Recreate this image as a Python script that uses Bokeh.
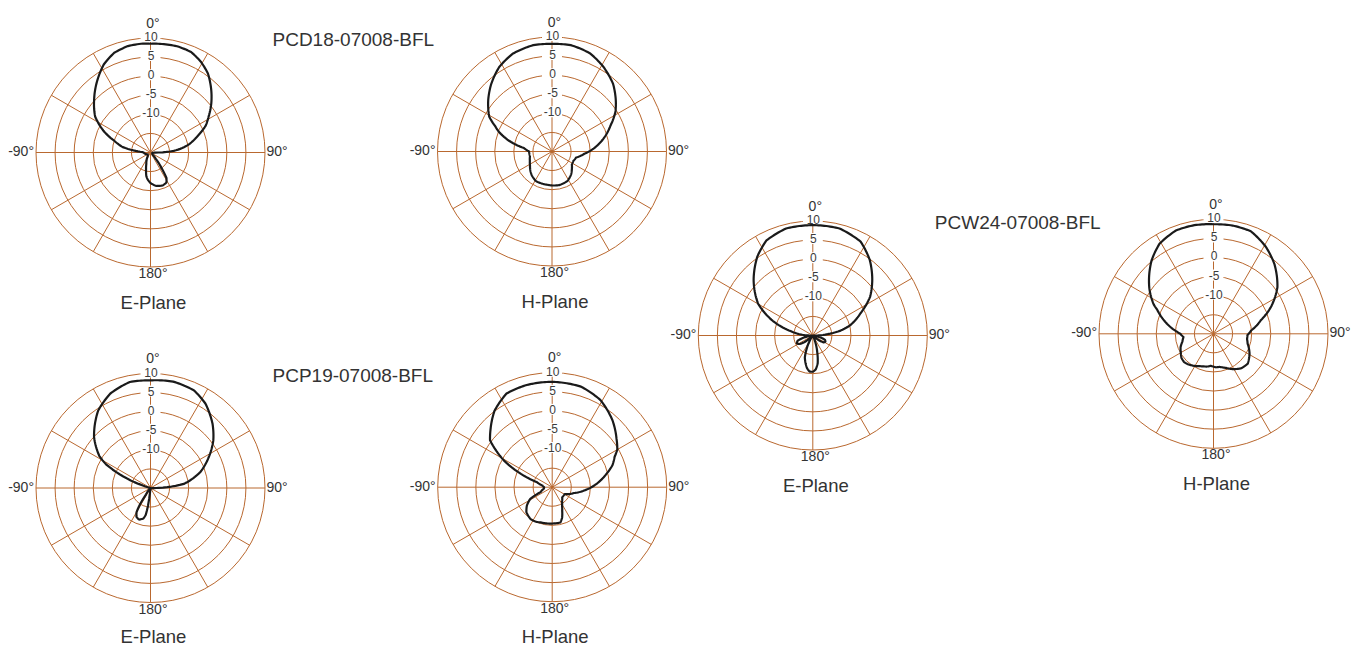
import numpy as np
from bokeh.plotting import figure
from bokeh.models import Range1d
from bokeh.core.properties import value
from bokeh.embed import file_html
from bokeh.resources import INLINE

# ---------------- data ----------------
ring_db = [-15, -10, -5, 0, 5, 10]
ring_labels = ["", "-10", "-5", "0", "5", "10"]
spoke_deg = [0, 30, 60, 90, 120, 150, 180, 210, 240, 270, 300, 330]
dir_labels = ["0°", "90°", "180°", "-90°"]
models = ["PCD18-07008-BFL", "PCP19-07008-BFL", "PCW24-07008-BFL"]
planes = ["E-Plane", "H-Plane"]

pcd18_e_ang = [0, 7, 14, 22, 29, 36, 44, 51, 58, 64, 70, 78, 82, 86, 89, 91, 100, 120, 135, 140,
               145, 148, 152, 160, 170, 180, 186, 190, 195, 200, 206, 215, 230, 250, 262, 270, 273, 277, 281, 288,
               294, 303, 313, 324, 332, 340, 348, 355]
pcd18_e_db = [8.5, 8.6, 8.7, 8.4, 7.2, 5.6, 2.9, 0.5, -2.0, -3.9, -6.6, -9.7, -11.6, -13.9, -16.8, -18.9, -19.5, -19.6, -19.2, -17.9,
              -14.7, -12.1, -11.1, -10.8, -11.1, -12.0, -12.9, -13.7, -15.5, -16.8, -17.6, -18.7, -19.2, -18.8, -18.4, -18.2, -17.9, -15.5, -12.6, -10.0,
              -6.8, -2.7, 0.2, 3.6, 6.1, 7.8, 8.5, 8.6]

pcd18_h_ang = [0, 10, 21, 31, 42, 51, 58, 66, 75, 85, 94, 104, 114, 123, 132, 140, 152, 168, 180, 187,
               200, 209, 220, 228, 238, 247, 258, 270, 277, 284, 290, 294, 299, 309, 318, 328, 338, 350]
pcd18_h_db = [8.2, 8.3, 7.6, 6.0, 3.9, 1.5, -0.4, -3.2, -5.8, -8.8, -11.5, -13.5, -13.9, -13.8, -13.0, -12.2, -11.3, -11.0, -11.1, -11.2,
              -11.2, -11.2, -11.8, -12.4, -13.2, -13.7, -14.1, -14.0, -12.6, -8.4, -5.3, -3.7, -1.2, 1.5, 3.8, 6.1, 7.6, 8.3]

pcw24_e_ang = [0, 14, 27, 37, 47, 56, 65, 75, 80, 85, 90, 99, 104, 110, 116, 122, 128, 134, 155, 160,
               165, 170, 175, 180, 185, 190, 195, 200, 205, 210, 217, 226, 231, 237, 244, 251, 257, 263, 270, 275,
               281, 290, 300, 313, 325, 334, 346]
pcw24_e_db = [8.9, 8.9, 7.6, 4.8, 1.3, -1.9, -6.2, -10.0, -12.6, -16.1, -19.2, -20, -17.9, -16.6, -16.3, -16.6, -17.9, -20, -20, -17.9,
              -15.5, -12.6, -11.1, -10.5, -10.5, -11.3, -12.6, -13.9, -16.3, -18.4, -20, -20, -17.4, -15.9, -15.3, -15.8, -17.6, -20, -19.5, -16.7,
              -14.2, -8.9, -3.5, 1.2, 5.3, 7.7, 8.9]

pcw24_h_ang = [0, 10, 20, 31, 41, 54, 65, 74, 85, 92, 99, 106, 119, 131, 141, 150, 160, 165, 170, 176,
               180, 185, 190, 196, 203, 211, 220, 226, 233, 240, 248, 256, 264, 270, 273, 282, 293, 296, 305, 320,
               329, 340, 350]
pcw24_h_db = [8.7, 8.8, 8.6, 6.6, 4.3, 0.7, -3.4, -7.1, -10.1, -11.1, -11.1, -10.7, -9.2, -8.1, -8.4, -9.3, -10.5, -10.9, -11.2, -11.2,
              -11.4, -11.6, -11.3, -11.1, -10.8, -10.2, -9.6, -9.3, -9.5, -10.1, -10.7, -11.6, -12.1, -11.3, -10.5, -7.6, -4.0, -2.6, 0.5, 5.2,
              7.5, 8.8, 8.9]

pcp19_e_ang = [0, 12, 24, 33, 44, 53, 62, 72, 83, 87, 89, 92, 120, 180, 186, 188, 190, 193, 200, 206,
               210, 213, 215, 220, 260, 285, 288, 290, 292, 295, 298, 302, 312, 326, 337, 349]
pcp19_e_db = [8.2, 8.5, 8.0, 6.4, 3.4, 0.6, -2.7, -6.2, -11.2, -15.6, -17.9, -19.5, -20, -20, -19.2, -15.3, -12.9, -11.8, -11.2, -11.6,
              -12.7, -15.1, -17.9, -19.5, -20, -20, -17.9, -15.5, -13.4, -10.0, -6.8, -4.2, -0.1, 4.5, 6.9, 8.3]

pcp19_h_ang = [0, 16, 29, 42, 53, 60, 64, 70, 76, 82, 96, 105, 119, 135, 145, 152, 157, 162, 167, 177,
               190, 198, 205, 214, 226, 234, 242, 247, 260, 270, 280, 288, 293, 299, 307, 313, 323, 334, 346]
pcp19_h_db = [7.6, 7.4, 6.1, 3.6, 1.1, -0.3, -1.8, -3.2, -5.3, -7.2, -11.6, -14.1, -16.3, -16.3, -15.5, -14.5, -13.3, -11.6, -10.5, -10.5,
              -10.4, -10.3, -10.0, -9.9, -10.6, -11.8, -13.5, -16.7, -17.8, -17.9, -17.4, -15.8, -11.1, -5.5, 0.4, 2.1, 5.1, 7.3, 7.6]

# ---------------- layout / style ----------------
W, H = 1351, 646
R = 114.5               # outer ring radius (px)
DB_MIN, DB_MAX = -20.0, 10.0
SCALE = R / (DB_MAX - DB_MIN)
GRID = "#B9682F"
TXT = "#333333"
FONT = value("Liberation Sans")

panels = [
    # (cx, cy, angles, dbs, plane, title)
    (150.0, 152.0, pcd18_e_ang, pcd18_e_db, planes[0], models[0]),
    (551.5, 151.0, pcd18_h_ang, pcd18_h_db, planes[1], None),
    (812.3, 335.0, pcw24_e_ang, pcw24_e_db, planes[0], models[2]),
    (1213.0, 333.3, pcw24_h_ang, pcw24_h_db, planes[1], None),
    (150.0, 487.5, pcp19_e_ang, pcp19_e_db, planes[0], models[1]),
    (551.7, 486.7, pcp19_h_ang, pcp19_h_db, planes[1], None),
]

p = figure(width=W, height=H, x_range=Range1d(0, W), y_range=Range1d(H, 0),
           output_backend="svg", toolbar_location=None, min_border=0,
           x_axis_type=None, y_axis_type=None)
p.outline_line_color = None
p.grid.visible = False


def rad(dbv):
    return max(0.0, (dbv - DB_MIN) * SCALE)


def polar_path(cx, cy, ang, db):
    a = list(ang) + [ang[0] + 360]
    d = list(db) + [db[0]]
    xs, ys = [], []
    for i in range(len(a) - 1):
        n = max(2, int(round(abs(a[i + 1] - a[i]))))
        for k in range(n):
            t = k / n
            th = np.radians(a[i] + t * (a[i + 1] - a[i]))
            r = rad(d[i] + t * (d[i + 1] - d[i]))
            xs.append(cx + r * np.sin(th))
            ys.append(cy - r * np.cos(th))
    xs.append(xs[0])
    ys.append(ys[0])
    return xs, ys


for cx, cy, ang, db, plane, title in panels:
    # rings
    radii = [rad(v) for v in ring_db]
    p.circle(x=[cx] * len(radii), y=[cy] * len(radii), radius=radii,
             fill_color=None, line_color=GRID, line_width=1)
    # spokes
    th = np.radians(spoke_deg)
    p.segment(x0=[cx] * len(th), y0=[cy] * len(th),
              x1=list(cx + R * np.sin(th)), y1=list(cy - R * np.cos(th)),
              line_color=GRID, line_width=1)
    # ring label boxes + labels
    lab_r = [rad(v) + 1.5 for v, l in zip(ring_db, ring_labels) if l]
    labs = [l for l in ring_labels if l]
    p.rect(x=[cx] * len(lab_r), y=[cy - r for r in lab_r], width=20, height=11,
           fill_color="white", line_color=None)
    p.text(x=[cx + 0.5] * len(lab_r), y=[cy - r for r in lab_r], text=labs,
           text_font=FONT, text_font_size=value("12px"), text_color="#3c3c3c",
           text_align="center", text_baseline="middle")
    # direction labels
    p.text(x=[cx + 2.5, cx + R + 1.5, cx + 2.5, cx - R - 2],
           y=[cy - 130, cy - 1.5, cy + 120.5, cy - 1.5],
           text=dir_labels, text_font=FONT, text_font_size=value("14px"),
           text_color=TXT,
           text_align=["center", "left", "center", "right"],
           text_baseline="middle")
    # plane label
    p.text(x=[cx + 3], y=[min(cy + 149.5, H - 10.5)], text=[plane], text_font=FONT,
           text_font_size=value("18.5px"), text_color=TXT,
           text_align="center", text_baseline="middle")
    if title:
        p.text(x=[cx + 122], y=[cy - 113], text=[title], text_font=FONT,
               text_font_size=value("19px"), text_color=TXT,
               text_align="left", text_baseline="middle")
    # pattern
    xs, ys = polar_path(cx, cy, ang, db)
    p.line(xs, ys, line_color="#1a1a1a", line_width=2.2)

open("out.html", "w").write(file_html(p, INLINE))
